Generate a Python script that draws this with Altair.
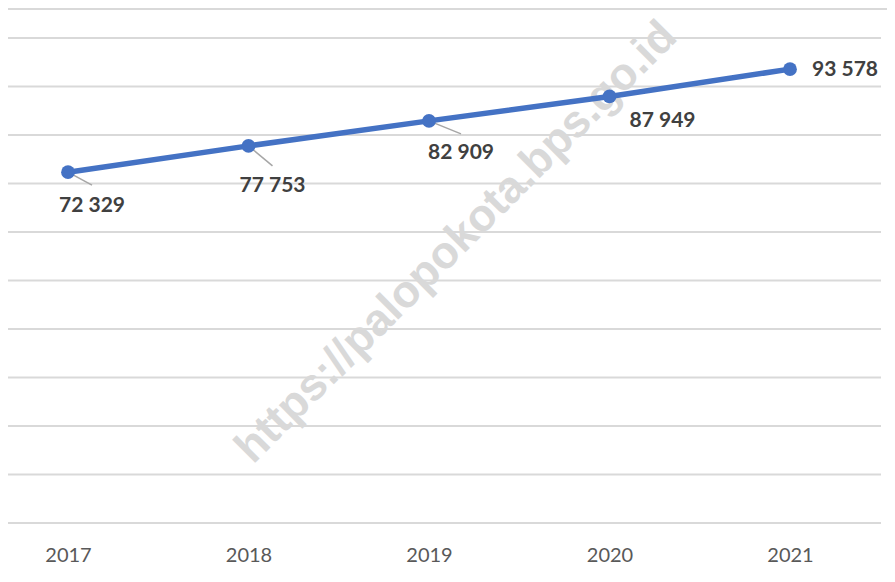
import altair as alt
import pandas as pd

# ---- data ----
years = [2017, 2018, 2019, 2020, 2021]
values = [72329, 77753, 82909, 87949, 93578]
labels = ["72 329", "77 753", "82 909", "87 949", "93 578"]
grid_values = [0, 10000, 20000, 30000, 40000, 50000, 60000, 70000, 80000, 90000, 100000]
watermark = "https://palopokota.bps.go.id"

# label offsets (pixels) relative to the point
label_dx = [24, 24, 32, 53, 55]
label_dy = [34, 40, 32, 25, 1]
# leader lines (pixels) for the labels that have one
leader_dx = [24, 24, 32, None, None]
leader_dy = [13, 20, 13, None, None]

W, H = 879, 514
X_DOMAIN = [2016.6676, 2021.5374]
Y_DOMAIN = [0, 105979]
px_per_year = W / (X_DOMAIN[1] - X_DOMAIN[0])
val_per_px = (Y_DOMAIN[1] - Y_DOMAIN[0]) / H

df = pd.DataFrame({"year": years, "value": values, "label": labels})

blue = "#4472C4"

xscale = alt.Scale(domain=X_DOMAIN, nice=False, zero=False)
yscale = alt.Scale(domain=Y_DOMAIN, nice=False, zero=False)
xaxis = alt.Axis(values=years, format="d", title=None, grid=False,
                 domain=False, ticks=False, labelFont="Lato",
                 labelFontSize=20, labelColor="#595959", labelPadding=22)

def X(field):
    return alt.X(field, scale=xscale, axis=xaxis)

def Y(field):
    return alt.Y(field, scale=yscale, axis=None)

grid = alt.Chart(pd.DataFrame({"v": grid_values})).mark_rule(
    color="#d9d9d9", strokeWidth=2
).encode(y=Y("v:Q"), x=alt.value(-2), x2=alt.value(873))

top_line = alt.Chart(pd.DataFrame({"v": [Y_DOMAIN[1]]})).mark_rule(
    color="#d9d9d9", strokeWidth=2
).encode(y=Y("v:Q"), x=alt.value(-2), x2=alt.value(W))

wm = alt.Chart(pd.DataFrame({"t": [watermark]})).mark_text(
    font="Liberation Sans", fontWeight="bold", fontSize=45, angle=315,
    color="#d9d9d9", align="center", baseline="middle"
).encode(text="t:N", x=alt.value(448), y=alt.value(233))

lead_rows = []
for i, (yr, v, ldx, ldy) in enumerate(zip(years, values, leader_dx, leader_dy)):
    if ldx is None:
        continue
    lead_rows.append({"id": i, "year": yr, "value": v})
    lead_rows.append({"id": i, "year": yr + ldx / px_per_year,
                      "value": v - ldy * val_per_px})
leaders = alt.Chart(pd.DataFrame(lead_rows)).mark_line(
    color="#a6a6a6", strokeWidth=1.5
).encode(x=X("year:Q"), y=Y("value:Q"), detail="id:N")

line = alt.Chart(df).mark_line(color=blue, strokeWidth=5.5).encode(x=X("year:Q"), y=Y("value:Q"))
pts = alt.Chart(df).mark_circle(color=blue, size=190, opacity=1).encode(x=X("year:Q"), y=Y("value:Q"))

text_layers = []
for yr, dx, dy in zip(years, label_dx, label_dy):
    text_layers.append(
        alt.Chart(df).transform_filter(alt.datum.year == yr).mark_text(
            font="Lato", fontWeight="bold", fontSize=21, color="#404040",
            dx=dx, dy=dy, align="center", baseline="middle"
        ).encode(x=X("year:Q"), y=Y("value:Q"), text="label:N")
    )

chart = alt.layer(grid, top_line, wm, leaders, line, pts, *text_layers).properties(
    width=W, height=H,
    autosize=alt.AutoSizeParams(type="none"),
    padding={"left": 0, "top": 1, "right": 0, "bottom": 45}
).configure_view(stroke=None)

chart.save("out.html", embed_options={"renderer": "svg", "actions": False})
